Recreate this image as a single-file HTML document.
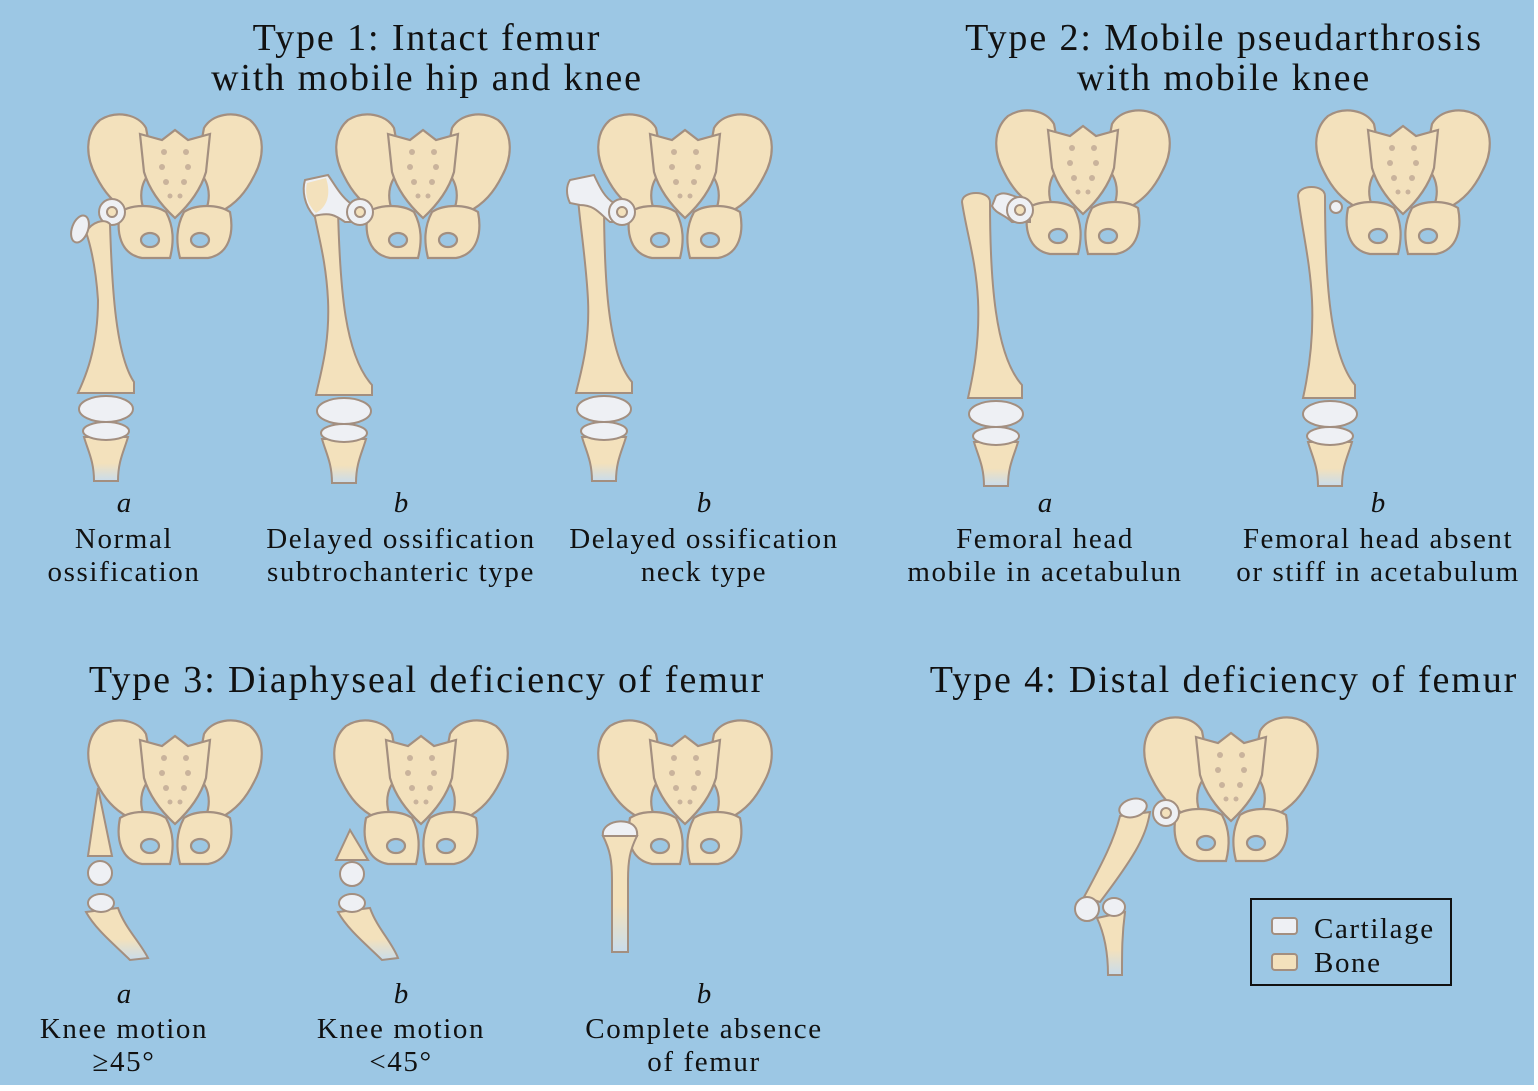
<!DOCTYPE html>
<html><head><meta charset="utf-8"><style>
html,body{margin:0;padding:0;background:#fff;}
svg{display:block;}
text{font-family:"Liberation Serif",serif;fill:#111;}
.t{font-size:38px;letter-spacing:1.9px;text-anchor:middle;}
.l{font-size:29px;letter-spacing:1.6px;text-anchor:middle;}
.i{font-size:29px;font-style:italic;text-anchor:middle;}
</style></head><body>
<svg width="1538" height="1091" viewBox="0 0 1538 1091" xmlns="http://www.w3.org/2000/svg">
<defs>
<linearGradient id="tib" x1="0" y1="0" x2="0" y2="1">
<stop offset="0" stop-color="#f3e1bc"/><stop offset="0.6" stop-color="#f3e1bc"/><stop offset="1" stop-color="#c9dceb"/>
</linearGradient>
<g id="wing">
<path d="M48,100 C32,92 22,80 14,64 C4,46 2,22 18,8 C34,-2 56,2 64,16 L72,58 C60,66 56,82 62,98 Z"/>
<path d="M38,100 C34,120 38,142 60,146 L88,146 C92,130 92,115 84,100 C72,92 50,92 38,100 Z"/>
</g>
<g id="pelvis" fill="#f3e1bc" stroke="#a38f80" stroke-width="2.2">
<use href="#wing"/>
<use href="#wing" transform="translate(186,0) scale(-1,1)"/>
<path d="M58,22 L80,28 L93,18 L106,28 L128,22 L124,60 C118,80 105,95 93,106 C81,95 68,80 62,60 Z"/>
<ellipse cx="68" cy="128" rx="9" ry="7" fill="#9cc7e4"/>
<ellipse cx="118" cy="128" rx="9" ry="7" fill="#9cc7e4"/>
<g fill="#c9b39c" stroke="none">
<circle cx="82" cy="40" r="3"/><circle cx="104" cy="40" r="3"/>
<circle cx="80" cy="55" r="3"/><circle cx="106" cy="55" r="3"/>
<circle cx="84" cy="70" r="3"/><circle cx="102" cy="70" r="3"/>
<circle cx="88" cy="84" r="2.5"/><circle cx="98" cy="84" r="2.5"/>
</g>
</g>
<g id="ring" stroke="#a38f80" stroke-width="2">
<circle r="13" fill="#eef0f4"/><circle r="5" fill="#f3e1bc"/>
</g>
<g id="low" stroke="#a38f80" stroke-width="2">
<ellipse cx="0" cy="16" rx="27" ry="13" fill="#eef0f4"/>
<path d="M-22,44 L22,44 C18,58 12,68 12,88 L-12,88 C-12,68 -18,58 -22,44 Z" fill="url(#tib)"/>
<ellipse cx="0" cy="38" rx="23" ry="9" fill="#eef0f4"/>
</g>
</defs>
<rect width="1534" height="1085" fill="#9cc7e4"/>

<text class="t" x="427" y="50">Type 1: Intact femur</text>
<text class="t" x="427" y="90">with mobile hip and knee</text>
<text class="t" x="1224" y="50">Type 2: Mobile pseudarthrosis</text>
<text class="t" x="1224" y="90">with mobile knee</text>
<text class="t" x="427" y="692">Type 3: Diaphyseal deficiency of femur</text>
<text class="t" x="1224" y="692">Type 4: Distal deficiency of femur</text>

<use href="#pelvis" x="82" y="112"/>
<use href="#ring" x="112" y="212"/>
<g stroke="#a38f80" stroke-width="2">
<path d="M86,232 C92,222 104,218 110,224 C112,290 116,355 134,382 L134,393 L78,393 C84,380 98,350 98,300 C96,270 92,250 86,232 Z" fill="#f3e1bc"/>
<ellipse cx="80" cy="229" rx="8" ry="14" transform="rotate(20 80 229)" fill="#eef0f4"/>
</g>
<use href="#low" x="106" y="393"/>

<use href="#pelvis" x="330" y="112"/>
<g stroke="#a38f80" stroke-width="2">
<path d="M314,212 L338,210 C340,290 345,355 372,385 L372,395 L316,395 C320,375 330,345 328,300 C326,260 318,235 314,212 Z" fill="#f3e1bc"/>
<path d="M305,180 L328,175 C335,185 340,195 350,203 L362,205 L362,222 L345,222 C335,215 330,212 314,216 C304,205 302,190 305,180 Z" fill="#eef0f4"/>
<path d="M307,183 L326,178 C330,190 330,205 316,213 C306,203 305,192 307,183 Z" fill="#f3e1bc" stroke="none"/>
</g>
<use href="#ring" x="360" y="212"/>
<use href="#low" x="344" y="395"/>

<use href="#pelvis" x="592" y="112"/>
<g stroke="#a38f80" stroke-width="2">
<path d="M578,198 L604,198 C604,280 608,355 632,382 L632,393 L576,393 C580,375 590,345 588,300 C586,260 580,225 578,198 Z" fill="#f3e1bc"/>
<path d="M570,180 L594,175 C600,188 605,198 614,203 L626,205 L626,222 L610,222 C600,214 595,205 580,205 L570,203 C566,195 566,186 570,180 Z" fill="#eef0f4"/>
</g>
<use href="#ring" x="622" y="212"/>
<use href="#low" x="604" y="393"/>

<use href="#pelvis" x="990" y="108"/>
<g stroke="#a38f80" stroke-width="2">
<path d="M962,202 C962,190 990,190 990,202 C990,280 995,355 1022,385 L1022,398 L968,398 C972,380 980,345 978,300 C976,260 966,230 962,202 Z" fill="#f3e1bc"/>
<path d="M996,196 C1004,190 1012,196 1020,198 L1030,205 L1030,222 L1012,222 C1004,214 996,214 992,206 Z" fill="#eef0f4"/>
</g>
<use href="#ring" x="1020" y="210"/>
<use href="#low" x="996" y="398"/>

<use href="#pelvis" x="1310" y="108"/>
<g stroke="#a38f80" stroke-width="2">
<path d="M1298,196 C1298,184 1325,184 1325,196 C1325,280 1330,355 1355,385 L1355,398 L1303,398 C1307,380 1314,345 1312,300 C1310,260 1302,230 1298,196 Z" fill="#f3e1bc"/>
<circle cx="1336" cy="207" r="6" fill="#eef0f4"/>
</g>
<use href="#low" x="1330" y="398"/>

<use href="#pelvis" x="82" y="718"/>
<g stroke="#a38f80" stroke-width="2">
<path d="M98,788 L112,856 L88,856 Z" fill="#f3e1bc"/>
<circle cx="100" cy="873" r="12" fill="#eef0f4"/>
<path d="M86,912 L118,908 C125,928 140,942 148,958 L130,960 C115,945 96,930 86,912 Z" fill="url(#tib)"/>
<ellipse cx="101" cy="903" rx="13" ry="9" fill="#eef0f4"/>
</g>
<use href="#pelvis" x="328" y="718"/>
<g stroke="#a38f80" stroke-width="2">
<path d="M350,830 L368,860 L336,860 Z" fill="#f3e1bc"/>
<circle cx="352" cy="874" r="12" fill="#eef0f4"/>
<path d="M338,912 L370,908 C377,928 392,942 398,958 L382,960 C367,945 348,930 338,912 Z" fill="url(#tib)"/>
<ellipse cx="352" cy="903" rx="13" ry="9" fill="#eef0f4"/>
</g>
<use href="#pelvis" x="592" y="718"/>
<g stroke="#a38f80" stroke-width="2">
<path d="M603,836 L637,836 C630,850 628,860 628,880 L628,952 L612,952 L612,880 C612,860 610,850 603,836 Z" fill="url(#tib)"/>
<path d="M603,836 C600,818 640,815 637,836 Z" fill="#eef0f4"/>
</g>

<use href="#pelvis" x="1138" y="715"/>
<use href="#ring" x="1166" y="813"/>
<g stroke="#a38f80" stroke-width="2">
<path d="M1120,816 L1150,812 C1146,835 1138,852 1100,902 L1084,897 C1104,860 1114,840 1120,816 Z" fill="#f3e1bc"/>
<ellipse cx="1133" cy="808" rx="14" ry="9" transform="rotate(-15 1133 808)" fill="#eef0f4"/>
<path d="M1097,918 L1125,912 C1122,935 1122,950 1122,975 L1108,975 C1108,955 1105,935 1097,918 Z" fill="url(#tib)"/>
<ellipse cx="1087" cy="909" rx="12" ry="12" fill="#eef0f4"/>
<ellipse cx="1114" cy="907" rx="11" ry="9" fill="#eef0f4"/>
</g>

<rect x="1251" y="899" width="200" height="86" fill="none" stroke="#111" stroke-width="2"/>
<rect x="1272" y="918" width="25" height="16" rx="3" fill="#eef0f4" stroke="#a38f80" stroke-width="2"/>
<rect x="1272" y="954" width="25" height="16" rx="3" fill="#f3e1bc" stroke="#a38f80" stroke-width="2"/>
<text x="1314" y="938" style="font-size:29px;letter-spacing:1.6px">Cartilage</text>
<text x="1314" y="972" style="font-size:29px;letter-spacing:1.6px">Bone</text>

<text class="i" x="124" y="512">a</text>
<text class="l" x="124" y="548">Normal</text>
<text class="l" x="124" y="581">ossification</text>
<text class="i" x="401" y="512">b</text>
<text class="l" x="401" y="548">Delayed ossification</text>
<text class="l" x="401" y="581">subtrochanteric type</text>
<text class="i" x="704" y="512">b</text>
<text class="l" x="704" y="548">Delayed ossification</text>
<text class="l" x="704" y="581">neck type</text>
<text class="i" x="1045" y="512">a</text>
<text class="l" x="1045" y="548">Femoral head</text>
<text class="l" x="1045" y="581">mobile in acetabulun</text>
<text class="i" x="1378" y="512">b</text>
<text class="l" x="1378" y="548">Femoral head absent</text>
<text class="l" x="1378" y="581">or stiff in acetabulum</text>

<text class="i" x="124" y="1003">a</text>
<text class="l" x="124" y="1038">Knee motion</text>
<text class="l" x="124" y="1071">≥45°</text>
<text class="i" x="401" y="1003">b</text>
<text class="l" x="401" y="1038">Knee motion</text>
<text class="l" x="401" y="1071">&lt;45°</text>
<text class="i" x="704" y="1003">b</text>
<text class="l" x="704" y="1038">Complete absence</text>
<text class="l" x="704" y="1071">of femur</text>
</svg>
</body></html>
